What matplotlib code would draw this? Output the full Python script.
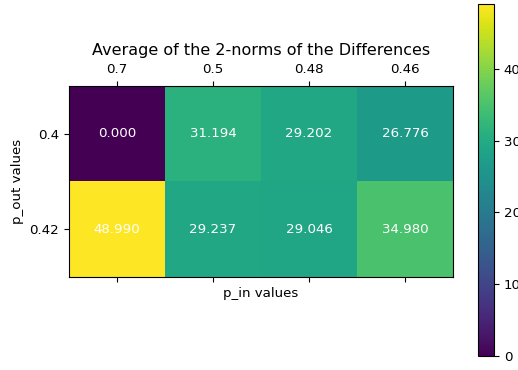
import numpy as np
import matplotlib
matplotlib.use("Agg")
import matplotlib.pyplot as plt

p_in = ["0.7", "0.5", "0.48", "0.46"]
p_out = ["0.4", "0.42"]
row_04 = [0.000, 31.194, 29.202, 26.776]
row_042 = [48.990, 29.237, 29.046, 34.980]

norms = np.array([row_04, row_042])

plt.rcParams["font.size"] = 9.6

fig = plt.figure(figsize=(5.18, 3.70), dpi=100)
ax = fig.add_axes([0.1332, 0.2514, 0.7413, 0.5162])
cax = fig.add_axes([0.9228, 0.0378, 0.0309, 0.951])

im = ax.matshow(norms, cmap="viridis", aspect="auto")
fig.colorbar(im, cax=cax)

ax.set_xticks(range(len(p_in)))
ax.set_xticklabels(p_in)
ax.set_yticks(range(len(p_out)))
ax.set_yticklabels(p_out)
ax.tick_params(axis="x", bottom=True)

for i in range(norms.shape[0]):
    for j in range(norms.shape[1]):
        ax.text(j, i, f"{norms[i, j]:.3f}", ha="center", va="center", color="w")

ax.set_title("Average of the 2-norms of the Differences", fontsize=11.55)
ax.set_xlabel("p_in values")
ax.set_ylabel("p_out values")

fig.savefig("out.png", dpi=100)
